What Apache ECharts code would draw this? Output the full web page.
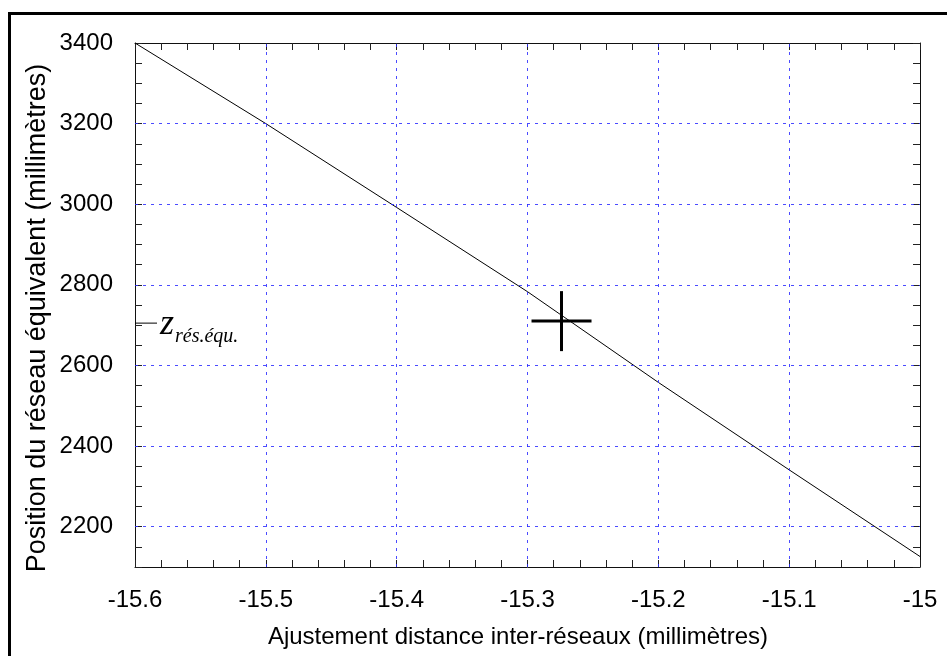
<!DOCTYPE html>
<html>
<head>
<meta charset="utf-8">
<script src="https://cdn.jsdelivr.net/npm/echarts@6/dist/echarts.min.js"></script>
<style>html,body{margin:0;padding:0;background:#fff;}#c{width:947px;height:656px;}</style>
</head>
<body>
<div id="c"></div>
<script>
// ---- data ----
var lineX = [-15.6, -15.5, -15.4, -15.3, -15.2, -15.1, -15.0];
var lineY = [3400, 3200, 2992, 2783, 2558, 2341, 2126];
var markerX = [-15.274];
var markerY = [2710];
var zLabelMain = 'z';
var zLabelSub = 'rés.équ.';
var xTickValues = [-15.6, -15.5, -15.4, -15.3, -15.2, -15.1, -15.0];
var xTickLabels = ['-15.6', '-15.5', '-15.4', '-15.3', '-15.2', '-15.1', '-15'];
var yTickValues = [2200, 2400, 2600, 2800, 3000, 3200, 3400];
var yTickLabels = ['2200', '2400', '2600', '2800', '3000', '3200', '3400'];
var xTitle = 'Ajustement distance inter-réseaux (millimètres)';
var yTitle = 'Position du réseau équivalent (millimètres)';
var xRange = [-15.6, -15.0];
var yRange = [2100, 3400];

// ---- chart ----
var FONT = '"Liberation Sans", Arial, sans-serif';
var SERIF = '"Liberation Serif", "Times New Roman", serif';
var gridBlue = '#2b2bff';

function findLabel(vals, labels, v, eps) {
  for (var i = 0; i < vals.length; i++) if (Math.abs(vals[i] - v) < eps) return labels[i];
  return '';
}

var lineData = lineX.map(function (x, i) { return [x, lineY[i]]; });
var markerData = markerX.map(function (x, i) { return [x, markerY[i]]; });

var tickCommon = { show: true, inside: true, length: 7, lineStyle: { color: '#222', width: 1 } };
var axisLineCommon = { show: true, onZero: false, lineStyle: { color: '#111', width: 1 } };

var chart = echarts.init(document.getElementById('c'), null, { renderer: 'canvas' });
chart.setOption({
  animation: false,
  backgroundColor: '#fff',
  graphic: [{
    type: 'rect', silent: true, z: 100,
    shape: { x: 9.5, y: 13.5, width: 2000, height: 2000 },
    style: { fill: 'none', stroke: '#000', lineWidth: 3 }
  }, {
    type: 'text', silent: true, x: 518, y: 637,
    style: { text: xTitle, font: '24px ' + FONT, fill: '#000', textAlign: 'center', textVerticalAlign: 'middle' }
  }, {
    type: 'text', silent: true, x: 38, y: 318, rotation: Math.PI / 2,
    style: { text: yTitle, font: '27px ' + FONT, fill: '#000', textAlign: 'center', textVerticalAlign: 'middle' }
  }],
  grid: { left: 135, right: 27, top: 43, bottom: 89, containLabel: false },
  xAxis: [{
    type: 'value', min: xRange[0], max: xRange[1], interval: 0.02, position: 'bottom',
    axisLine: axisLineCommon, axisTick: tickCommon, splitLine: { show: false },
    axisLabel: {
      show: true, margin: 21, color: '#000', fontFamily: FONT, fontSize: 24,
      showMinLabel: true, showMaxLabel: true,
      formatter: function (v) { return findLabel(xTickValues, xTickLabels, v, 1e-6); }
    }
  }, {
    type: 'value', min: xRange[0], max: xRange[1], interval: 0.02, position: 'top',
    axisLine: axisLineCommon, axisTick: tickCommon, splitLine: { show: false },
    axisLabel: { show: false }
  }],
  yAxis: [{
    type: 'value', min: yRange[0], max: yRange[1], interval: 50, position: 'left',
    axisLine: axisLineCommon, axisTick: tickCommon, splitLine: { show: false },
    axisLabel: {
      show: true, margin: 22, color: '#000', fontFamily: FONT, fontSize: 24,
      formatter: function (v) { return findLabel(yTickValues, yTickLabels, v, 1e-6); }
    }
  }, {
    type: 'value', min: yRange[0], max: yRange[1], interval: 50, position: 'right',
    axisLine: axisLineCommon, axisTick: tickCommon, splitLine: { show: false },
    axisLabel: { show: false }
  }],
  series: [
    {
      type: 'line', name: 'grid', data: [], silent: true, z: 1,
      markLine: {
        silent: true, symbol: 'none', label: { show: false },
        lineStyle: { color: gridBlue, width: 1, type: [3, 5], opacity: 0.85 },
        data: xTickValues.slice(1, -1).map(function (v) { return { xAxis: v }; })
          .concat(yTickValues.slice(0, -1).map(function (v) { return { yAxis: v }; }))
      }
    },
    {
      type: 'line', name: 'courbe', data: lineData, showSymbol: false, symbol: 'none',
      lineStyle: { color: '#000', width: 1 }, z: 3, clip: true
    },
    {
      type: 'custom', name: 'point', data: markerData, z: 4,
      renderItem: function (params, api) {
        var p = api.coord([api.value(0), api.value(1)]);
        var r = 30;
        return {
          type: 'group', children: [
            { type: 'line', shape: { x1: p[0] - r, y1: p[1], x2: p[0] + r, y2: p[1] }, style: { stroke: '#000', lineWidth: 3 } },
            { type: 'line', shape: { x1: p[0], y1: p[1] - r, x2: p[0], y2: p[1] + r }, style: { stroke: '#000', lineWidth: 3 } }
          ]
        };
      }
    },
    {
      type: 'custom', name: 'zlabel', data: markerY.map(function (y) { return [xRange[0], y]; }), z: 4,
      renderItem: function (params, api) {
        var p = api.coord([api.value(0), api.value(1)]);
        return {
          type: 'group', children: [
            { type: 'line', shape: { x1: p[0], y1: p[1] + 2, x2: p[0] + 22, y2: p[1] + 2 }, style: { stroke: '#000', lineWidth: 1 } },
            { type: 'text', x: p[0] + 25, y: p[1] + 21, style: { text: zLabelMain, font: 'italic 36px ' + SERIF, fill: '#000', textAlign: 'left', textVerticalAlign: 'bottom' } },
            { type: 'text', x: p[0] + 40, y: p[1] + 26, style: { text: zLabelSub, font: 'italic 20px ' + SERIF, fill: '#000', textAlign: 'left', textVerticalAlign: 'bottom' } }
          ]
        };
      }
    }
  ]
});
</script>
</body>
</html>
